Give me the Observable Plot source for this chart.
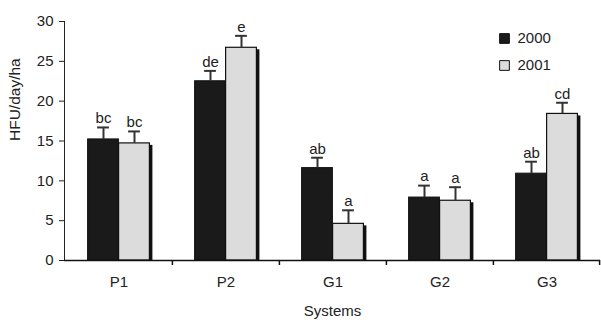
<!DOCTYPE html>
<html>
<head>
<meta charset="utf-8">
<script src="https://cdn.jsdelivr.net/npm/d3@7"></script>
<script src="https://cdn.jsdelivr.net/npm/@observablehq/plot@0.6"></script>
<style>
  html, body { margin: 0; padding: 0; background: #fff; }
  #chart svg { display: block; }
</style>
</head>
<body>
<div id="chart"></div>
<script>
// ---- data ----
const systems = ["P1", "P2", "G1", "G2", "G3"];
const mean2000 = [15.2, 22.5, 11.6, 7.9, 10.9];
const mean2001 = [14.7, 26.7, 4.6, 7.5, 18.4];
const err2000 = [1.5, 1.3, 1.3, 1.5, 1.5];
const err2001 = [1.5, 1.5, 1.7, 1.7, 1.4];
const letters2000 = ["bc", "de", "ab", "a", "ab"];
const letters2001 = ["bc", "e", "a", "a", "cd"];
const yTicks = [0, 5, 10, 15, 20, 25, 30];
const seriesNames = ["2000", "2001"];

// ---- layout ----
const W = 601, H = 320;
const mL = 64, mR = 1, mT = 21, mB = 60;
const bw = (W - mL - mR) / systems.length; // band width
const barW = 31;
const gap = (bw - 2 * barW) / 2;           // outer gap within band
const capHalf = 6;
const FONT = "Liberation Sans, Arial, Helvetica, sans-serif";
const C_BLACK = "#1a1a1a", C_GRAY = "#dcdcdc", C_TEXT = "#222";

const rows = systems.map((s, i) => ({
  system: s,
  v2000: mean2000[i], v2001: mean2001[i],
  e2000: mean2000[i] + err2000[i], e2001: mean2001[i] + err2001[i],
  l2000: letters2000[i], l2001: letters2001[i]
}));

const dBlack = -barW / 2, dGray = barW / 2;
const capInsets = (d) => ({
  insetLeft: bw / 2 + d - capHalf,
  insetRight: bw / 2 - d - capHalf
});

const legendMarks = seriesNames.flatMap((name, i) => [
  Plot.dot([name], { frameAnchor: "top-left", dx: 440, dy: 17 + i * 27,
    symbol: "square", r: 5.5, fill: i === 0 ? C_BLACK : C_GRAY, stroke: "#111", strokeWidth: 1 }),
  Plot.text([name], { frameAnchor: "top-left", dx: 453, dy: 17 + i * 27, lineAnchor: "middle",
    text: d => d, textAnchor: "start", fontSize: 15, fill: C_TEXT })
]);

const plot = Plot.plot({
  width: W, height: H,
  marginLeft: mL, marginRight: mR, marginTop: mT, marginBottom: mB,
  style: { fontFamily: FONT, fontSize: "15px", color: C_TEXT, background: "#fff" },
  x: { type: "band", domain: systems, padding: 0, label: null, tickSize: 0, tickPadding: 16 },
  y: { domain: [0, 30], ticks: yTicks, tickSize: 5, tickPadding: 6, label: null, line: true },
  marks: [
    // shadow of the 2001 bars
    Plot.rectY(rows, { x: "system", y1: 0, y2: "v2001", fill: "#111",
      insetLeft: gap + barW + 3, insetRight: gap - 3, insetTop: 2 }),
    // 2000 bars
    Plot.rectY(rows, { x: "system", y1: 0, y2: "v2000", fill: C_BLACK, stroke: "#111", strokeWidth: 1,
      insetLeft: gap, insetRight: gap + barW }),
    // 2001 bars
    Plot.rectY(rows, { x: "system", y1: 0, y2: "v2001", fill: C_GRAY, stroke: "#111", strokeWidth: 1.2,
      insetLeft: gap + barW, insetRight: gap }),
    // error bars
    Plot.ruleX(rows, { x: "system", y1: "v2000", y2: "e2000", dx: dBlack, stroke: "#333", strokeWidth: 2 }),
    Plot.ruleX(rows, { x: "system", y1: "v2001", y2: "e2001", dx: dGray, stroke: "#333", strokeWidth: 2 }),
    Plot.tickY(rows, { x: "system", y: "e2000", stroke: "#333", strokeWidth: 2, ...capInsets(dBlack) }),
    Plot.tickY(rows, { x: "system", y: "e2001", stroke: "#333", strokeWidth: 2, ...capInsets(dGray) }),
    // significance letters
    Plot.text(rows, { x: "system", y: "e2000", text: "l2000", dx: dBlack, dy: -9, fontSize: 15, fill: C_TEXT }),
    Plot.text(rows, { x: "system", y: "e2001", text: "l2001", dx: dGray, dy: -9, fontSize: 15, fill: C_TEXT }),
    // x axis baseline and boundary ticks
    Plot.ruleY([0], { stroke: "#111", strokeWidth: 1.5 }),
    Plot.ruleX(systems.slice(1), { x: d => d, y1: 0, y2: 0, dx: -bw / 2, insetBottom: -5, stroke: "#111", strokeWidth: 1.5 }),
    Plot.ruleX(systems.slice(-1), { x: d => d, y1: 0, y2: 0, dx: bw / 2 - 1, insetBottom: -5, stroke: "#111", strokeWidth: 1.5 }),
    // legend
    ...legendMarks,
    // axis titles
    Plot.text(["HFU/day/ha"], { frameAnchor: "left", dx: -49, dy: 0, rotate: -90, fontSize: 15.5, fill: C_TEXT }),
    Plot.text(["Systems"], { frameAnchor: "bottom", dy: 55, fontSize: 15, fill: C_TEXT })
  ]
});

document.getElementById("chart").appendChild(plot);
</script>
</body>
</html>
